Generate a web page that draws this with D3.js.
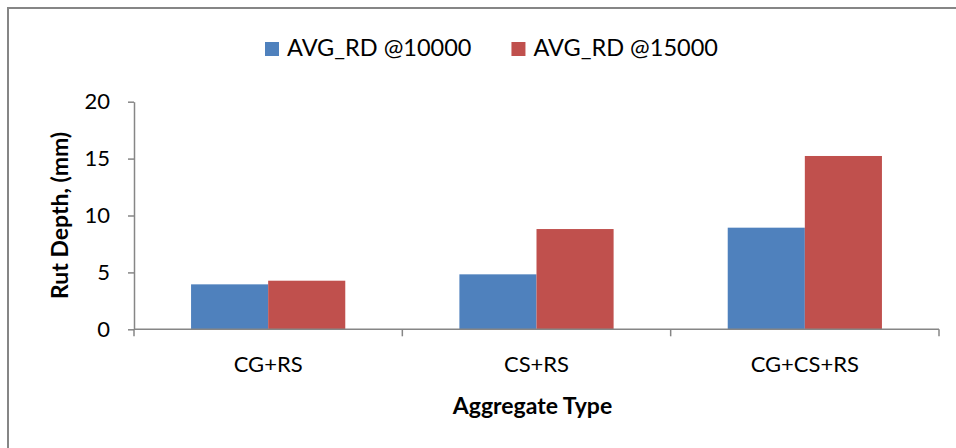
<!DOCTYPE html>
<html>
<head>
<meta charset="utf-8">
<script src="https://cdn.jsdelivr.net/npm/d3@7"></script>
<style>
  html, body { margin: 0; padding: 0; background: #fff; }
  svg { display: block; }
  text { font-family: Lato, Roboto, sans-serif; fill: #000; }
</style>
</head>
<body>
<svg id="chart" width="956" height="448"></svg>
<script>
// Rut depth by aggregate type at two load-cycle counts
const categories = ["CG+RS", "CS+RS", "CG+CS+RS"];
const seriesNames = ["AVG_RD @10000", "AVG_RD @15000"];
const rd10000 = [3.95, 4.83, 8.93];
const rd15000 = [4.27, 8.81, 15.23];
const yTicks = [0, 5, 10, 15, 20];
const colors = ["#4F81BD", "#C0504D"];

const seriesValues = [rd10000, rd15000];
const rows = categories.map((c, i) => ({
  category: c,
  values: seriesNames.map((s, j) => ({ series: s, value: seriesValues[j][i], idx: j }))
}));

const svg = d3.select("#chart");
const axisColor = "#868686";
const fontFamily = "Lato, Roboto, sans-serif";

// outer chart frame
svg.append("rect")
  .attr("x", 8).attr("y", 8)
  .attr("width", 1100).attr("height", 600)
  .attr("fill", "#fff")
  .attr("stroke", axisColor)
  .attr("stroke-width", 2);

const plot = { left: 134, right: 939, top: 101.7, bottom: 329.3 };

const x0 = d3.scaleBand()
  .domain(categories)
  .range([plot.left, plot.right])
  .paddingInner(0).paddingOuter(0);

const x1 = d3.scaleBand()
  .domain(seriesNames)
  .range([0, x0.bandwidth()])
  .paddingInner(0).paddingOuter(0.74);

const y = d3.scaleLinear()
  .domain([0, 20])
  .range([plot.bottom, plot.top]);

// bars
const groups = svg.append("g").selectAll("g")
  .data(rows).join("g")
  .attr("transform", d => `translate(${x0(d.category)},0)`);

groups.selectAll("rect")
  .data(d => d.values).join("rect")
  .attr("x", d => x1(d.series))
  .attr("y", d => y(d.value))
  .attr("width", x1.bandwidth())
  .attr("height", d => y(0) - y(d.value))
  .attr("fill", d => colors[d.idx]);

// y axis
const yAxis = svg.append("g")
  .attr("transform", `translate(${plot.left},0)`)
  .call(d3.axisLeft(y).tickValues(yTicks).tickSize(6).tickPadding(18).tickSizeOuter(0));
yAxis.select(".domain").attr("stroke", axisColor).attr("stroke-width", 1.5);
yAxis.selectAll(".tick line").attr("stroke", axisColor).attr("stroke-width", 1.5);
yAxis.selectAll(".tick text")
  .style("font-size", "22px")
  .style("font-family", fontFamily)
  .attr("fill", "#000");

// x axis: category boundary ticks
const xAxisG = svg.append("g").attr("transform", `translate(0,${plot.bottom})`);
xAxisG.append("line")
  .attr("x1", plot.left).attr("x2", plot.right)
  .attr("y1", 0).attr("y2", 0)
  .attr("stroke", axisColor).attr("stroke-width", 1.5);
const boundaries = categories.map(c => x0(c)).concat([x0(categories[categories.length - 1]) + x0.bandwidth()]);
xAxisG.selectAll("line.bound")
  .data(boundaries).join("line")
  .attr("class", "bound")
  .attr("x1", d => d).attr("x2", d => d)
  .attr("y1", 0).attr("y2", 7)
  .attr("stroke", axisColor).attr("stroke-width", 1.5);
xAxisG.selectAll("text.cat")
  .data(categories).join("text")
  .attr("class", "cat")
  .attr("x", d => x0(d) + x0.bandwidth() / 2)
  .attr("y", 42.4)
  .attr("text-anchor", "middle")
  .style("font-size", "22px")
  .text(d => d);

// axis titles
svg.append("text")
  .attr("x", (plot.left + plot.right) / 2 - 4)
  .attr("y", 414)
  .attr("text-anchor", "middle")
  .style("font-size", "23px")
  .style("font-weight", "bold")
  .text("Aggregate Type");

svg.append("text")
  .attr("transform", `translate(68,${(plot.top + plot.bottom) / 2}) rotate(-90)`)
  .attr("text-anchor", "middle")
  .style("font-size", "23px")
  .style("font-weight", "bold")
  .text("Rut Depth, (mm)");

// legend
const legend = svg.append("g").attr("transform", "translate(265,0)");
let lx = 0;
seriesNames.forEach((s, i) => {
  const item = legend.append("g").attr("transform", `translate(${lx},0)`);
  item.append("rect")
    .attr("x", 0).attr("y", 42)
    .attr("width", 14).attr("height", 14)
    .attr("fill", colors[i]);
  const t = item.append("text")
    .attr("x", 22).attr("y", 56)
    .style("font-size", "23.5px")
    .text(s);
  lx += 22 + t.node().getComputedTextLength() + 40;
});
</script>
</body>
</html>
